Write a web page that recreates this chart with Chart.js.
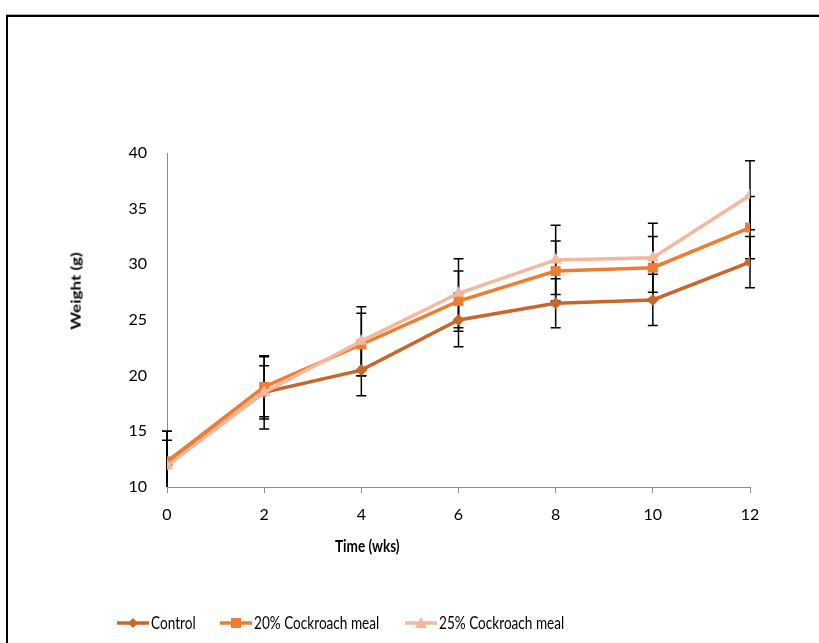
<!DOCTYPE html>
<html>
<head>
<meta charset="utf-8">
<script src="https://cdn.jsdelivr.net/npm/chart.js@4.4.1/dist/chart.umd.min.js"></script>
<style>
    html, body { margin: 0; padding: 0; background: #fff; }
    #wrap { position: relative; width: 819px; height: 643px; overflow: hidden; font-family: Lato, sans-serif; }
    #frame { position: absolute; left: 6px; top: 15px; width: 900px; height: 700px;
             border-top: 2px solid #000; border-left: 2px solid #000; box-shadow: 0 -1px 0 #b0b0b0; }
    #chart { position: absolute; left: 0; top: 0; }
    .title { position: absolute; font-weight: bold; font-size: 17px; color: #000; white-space: nowrap; }
    #xTitle { left: 335px; top: 535px; transform: scaleX(0.8); transform-origin: left center; }
    #yTitle { left: 75px; top: 291px; transform: translate(-50%, -50%) rotate(-90deg) scaleY(0.8); }
    .item { position: absolute; top: 612px; display: flex; align-items: center; font-size: 17px; color: #000; white-space: nowrap; }
    .item canvas { margin-right: 2px; }
    .item span { display: inline-block; transform: scaleX(0.8); transform-origin: left center; }
</style>
</head>
<body>
<div id="wrap">
    <div id="frame"></div>
    <canvas id="chart" width="819" height="643"></canvas>
    <div class="title" id="yTitle">Weight (g)</div>
    <div class="title" id="xTitle">Time (wks)</div>
</div>
<script>
    // Data
    const weeks = [0, 2, 4, 6, 8, 10, 12];
    const seriesNames = ['Control', '20% Cockroach meal', '25% Cockroach meal'];
    const control = [12.0, 18.5, 20.5, 25.0, 26.5, 26.8, 30.2];
    const meal20 = [12.3, 19.0, 22.8, 26.7, 29.4, 29.7, 33.3];
    const meal25 = [11.9, 18.5, 23.1, 27.4, 30.4, 30.6, 36.2];
    const controlErr = [2.2, 2.4, 2.3, 2.4, 2.2, 2.3, 2.3];
    const meal20Err = [2.7, 2.7, 2.8, 2.7, 2.7, 2.8, 2.8];
    const meal25Err = [3.1, 3.3, 3.1, 3.1, 3.1, 3.1, 3.1];
    const yTicks = [10, 15, 20, 25, 30, 35, 40];
    const xTicks = [0, 2, 4, 6, 8, 10, 12];

    const colors = ['#C8662B', '#ED7D31', '#F4B8A0'];
    const styles = ['rectRot', 'rect', 'triangle'];
    const radii = [6, 7, 7];
    const legendLeft = [117, 220, 405];
    const values = [control, meal20, meal25];
    const errors = [controlErr, meal20Err, meal25Err];

    const datasets = values.map((vals, i) => ({
        label: seriesNames[i],
        data: weeks.map((w, j) => ({ x: w, y: vals[j] })),
        errs: errors[i],
        borderColor: colors[i],
        backgroundColor: colors[i],
        borderWidth: 3.5,
        pointStyle: styles[i],
        pointRadius: radii[i],
        pointBorderWidth: 0,
        tension: 0,
        order: 3 - i
    }));

    // Error bars drawn through the chart's scales
    const errorBars = {
        id: 'errorBars',
        beforeDatasetsDraw(chart) {
            const ctx = chart.ctx;
            const xs = chart.scales.x, ys = chart.scales.y;
            const area = chart.chartArea;
            ctx.save();
            ctx.strokeStyle = '#000';
            ctx.lineWidth = 1.5;
            chart.data.datasets.forEach(ds => {
                ds.data.forEach((p, j) => {
                    const px = xs.getPixelForValue(p.x);
                    const top = ys.getPixelForValue(p.y + ds.errs[j]);
                    const bot = Math.min(ys.getPixelForValue(p.y - ds.errs[j]), area.bottom);
                    ctx.beginPath();
                    ctx.moveTo(px, top); ctx.lineTo(px, bot);
                    ctx.moveTo(px - 5, top); ctx.lineTo(px + 5, top);
                    if (bot < area.bottom) { ctx.moveTo(px - 5, bot); ctx.lineTo(px + 5, bot); }
                    ctx.stroke();
                });
            });
            ctx.restore();
        }
    };

    const tickFont = { family: 'Lato', size: 16 };

    new Chart(document.getElementById('chart'), {
        type: 'line',
        data: { datasets: datasets },
        options: {
            responsive: false,
            animation: false,
            events: [],
            layout: { padding: { left: 0, right: 69, top: 153, bottom: 84 } },
            plugins: { legend: { display: false }, tooltip: { enabled: false } },
            scales: {
                x: {
                    type: 'linear',
                    min: 0, max: 12,
                    afterBuildTicks: s => { s.ticks = xTicks.map(v => ({ value: v })); },
                    afterFit: s => { s.height = 72; },
                    border: { color: '#8c8c8c', width: 1 },
                    grid: { drawOnChartArea: false, drawTicks: true, tickLength: 6, color: '#8c8c8c' },
                    ticks: { color: '#000', font: tickFont, padding: 12, maxRotation: 0 }
                },
                y: {
                    min: 10, max: 40,
                    afterBuildTicks: s => { s.ticks = yTicks.map(v => ({ value: v })); },
                    afterFit: s => { s.width = 167; },
                    border: { color: '#8c8c8c', width: 1 },
                    grid: { drawOnChartArea: false, drawTicks: false },
                    ticks: { color: '#000', font: tickFont, padding: 20 }
                }
            }
        },
        plugins: [errorBars]
    });

    // Legend: line with marker, then the series name
    const wrap = document.getElementById('wrap');
    seriesNames.forEach((name, i) => {
        const item = document.createElement('div');
        item.className = 'item';
        item.style.left = legendLeft[i] + 'px';
        const c = document.createElement('canvas');
        c.width = 32; c.height = 14;
        const g = c.getContext('2d');
        g.strokeStyle = colors[i]; g.fillStyle = colors[i]; g.lineWidth = 3.5;
        g.beginPath(); g.moveTo(0, 7); g.lineTo(32, 7); g.stroke();
        g.beginPath();
        if (i === 0) { g.moveTo(16, 2); g.lineTo(21, 7); g.lineTo(16, 12); g.lineTo(11, 7); }
        else if (i === 1) { g.rect(11, 2, 10, 10); }
        else { g.moveTo(16, 1); g.lineTo(22, 12); g.lineTo(10, 12); }
        g.closePath(); g.fill();
        const t = document.createElement('span');
        t.textContent = name;
        item.appendChild(c); item.appendChild(t);
        wrap.appendChild(item);
    });
</script>
</body>
</html>
